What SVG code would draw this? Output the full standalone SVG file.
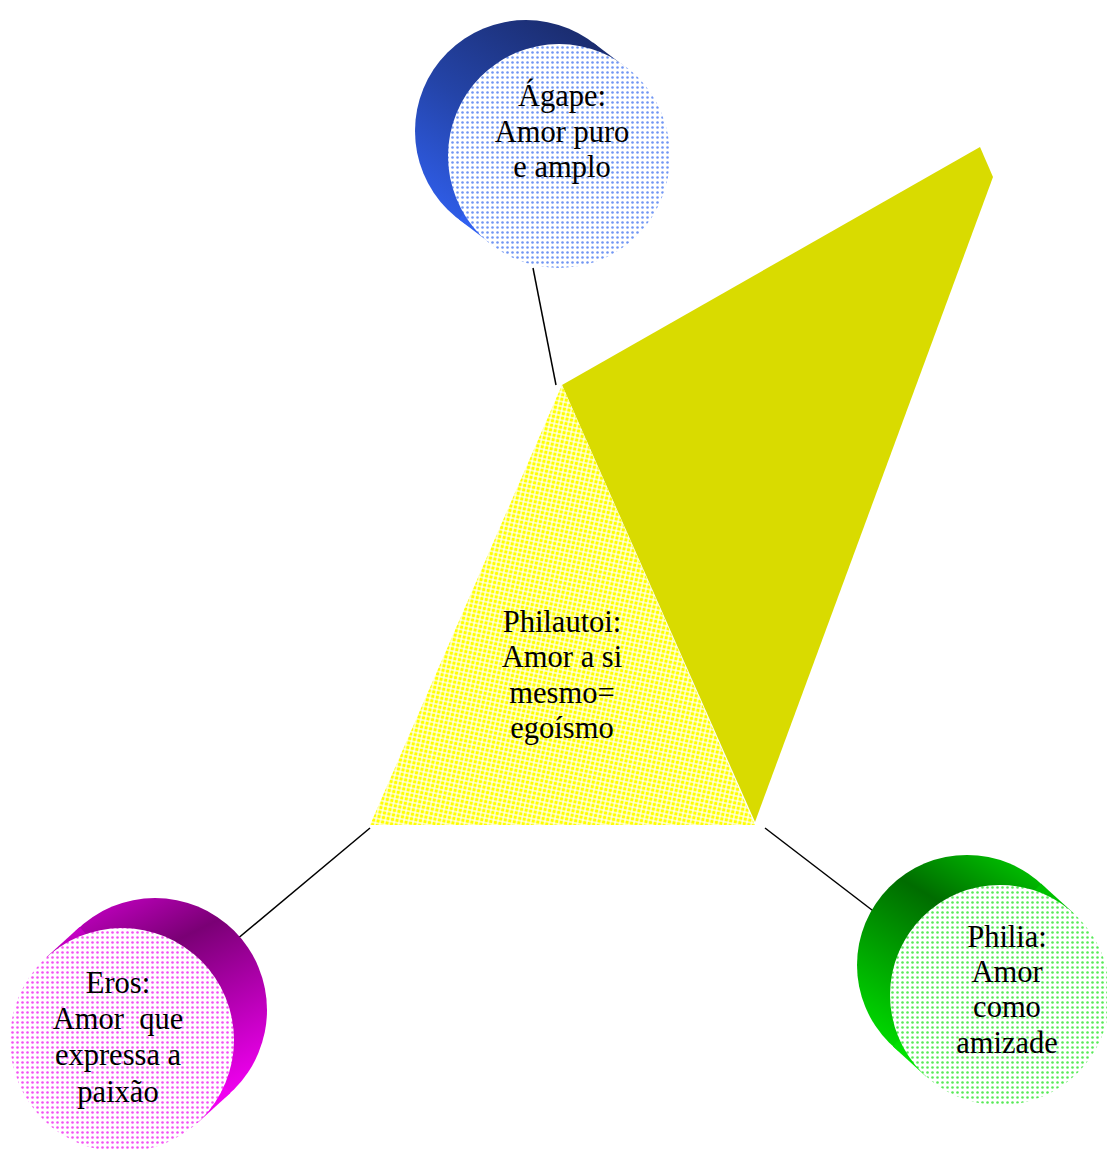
<svg xmlns="http://www.w3.org/2000/svg" width="1107" height="1151" viewBox="0 0 1107 1151">
<style>
.t{font-family:"Liberation Serif","Times New Roman",serif;font-size:30.5px;fill:#000;text-anchor:middle}
.c{stroke:#000;stroke-width:1.5;fill:none}
</style>
<defs>
<pattern id="pb" width="5" height="5" patternUnits="userSpaceOnUse"><rect width="5" height="5" fill="#fff"/><circle cx="2.5" cy="2.5" r="1.3" fill="#7096f4"/></pattern>
<pattern id="pp" width="5" height="5" patternUnits="userSpaceOnUse"><rect width="5" height="5" fill="#fff"/><circle cx="2.5" cy="2.5" r="1.3" fill="#f450f4"/></pattern>
<pattern id="pg" width="5" height="5" patternUnits="userSpaceOnUse"><rect width="5" height="5" fill="#fff"/><circle cx="2.5" cy="2.5" r="1.3" fill="#55ea55"/></pattern>
<pattern id="py" width="4.6" height="4.6" patternUnits="userSpaceOnUse" patternTransform="rotate(12)"><rect width="4.6" height="4.6" fill="#fff"/><rect x="0.6" y="0.6" width="3.4" height="3.4" fill="#ffff00"/></pattern>
<linearGradient id="gb" x1="0.65" y1="0" x2="0" y2="1"><stop offset="0" stop-color="#1b2d70"/><stop offset="0.45" stop-color="#2444a8"/><stop offset="1" stop-color="#3366ff"/></linearGradient>
<linearGradient id="gp" x1="0.1" y1="0" x2="0.6" y2="1"><stop offset="0" stop-color="#d000d0"/><stop offset="0.35" stop-color="#7a0075"/><stop offset="1" stop-color="#f000f0"/></linearGradient>
<linearGradient id="gg" x1="0.7" y1="0" x2="0.1" y2="1"><stop offset="0" stop-color="#00c000"/><stop offset="0.3" stop-color="#006c00"/><stop offset="1" stop-color="#00f000"/></linearGradient>
</defs>
<rect width="1107" height="1151" fill="#fff"/>
<g id="connectors">
<line class="c" x1="533" y1="268" x2="556" y2="385"/>
<line class="c" x1="370" y1="828" x2="230" y2="945"/>
<line class="c" x1="765" y1="828" x2="885" y2="920"/>
</g>
<g id="philautoi">
<polygon points="562,385 980,147 993,177 755,822" fill="#d9db00"/>
<polygon points="562,385 755,825 370,825" fill="url(#py)"/>
<text class="t" x="562" y="632">Philautoi:</text>
<text class="t" x="562" y="667">Amor a si</text>
<text class="t" x="562" y="703">mesmo=</text>
<text class="t" x="562" y="738">egoísmo</text>
</g>
<g id="agape">
<g fill="url(#gb)">
<circle cx="526" cy="131" r="111"/>
<polygon points="626,67.5 593,42.5 459,219.5 492,244.5"/>
</g>
<ellipse cx="559" cy="156" rx="111" ry="112" fill="url(#pb)"/>
<text class="t" x="562" y="106">Ágape:</text>
<text class="t" x="562" y="142">Amor puro</text>
<text class="t" x="562" y="177">e amplo</text>
</g>
<g id="eros">
<g fill="url(#gp)">
<circle cx="155" cy="1010" r="112"/>
<polygon points="46.6,957.1 79.6,927.1 230.4,1092.9 197.4,1122.9"/>
</g>
<circle cx="122" cy="1040" r="112" fill="url(#pp)"/>
<text class="t" x="118" y="993">Eros:</text>
<text class="t" x="118" y="1029">Amor&#160; que</text>
<text class="t" x="118" y="1065">expressa a</text>
<text class="t" x="118" y="1102">paixão</text>
</g>
<g id="philia">
<g fill="url(#gg)">
<circle cx="967" cy="965" r="110"/>
<polygon points="1074,913.6 1041,883.6 893,1046.4 926,1076.4"/>
</g>
<circle cx="1000" cy="995" r="110" fill="url(#pg)"/>
<text class="t" x="1007" y="947">Philia:</text>
<text class="t" x="1007" y="982">Amor</text>
<text class="t" x="1007" y="1017">como</text>
<text class="t" x="1007" y="1053">amizade</text>
</g>
</svg>
